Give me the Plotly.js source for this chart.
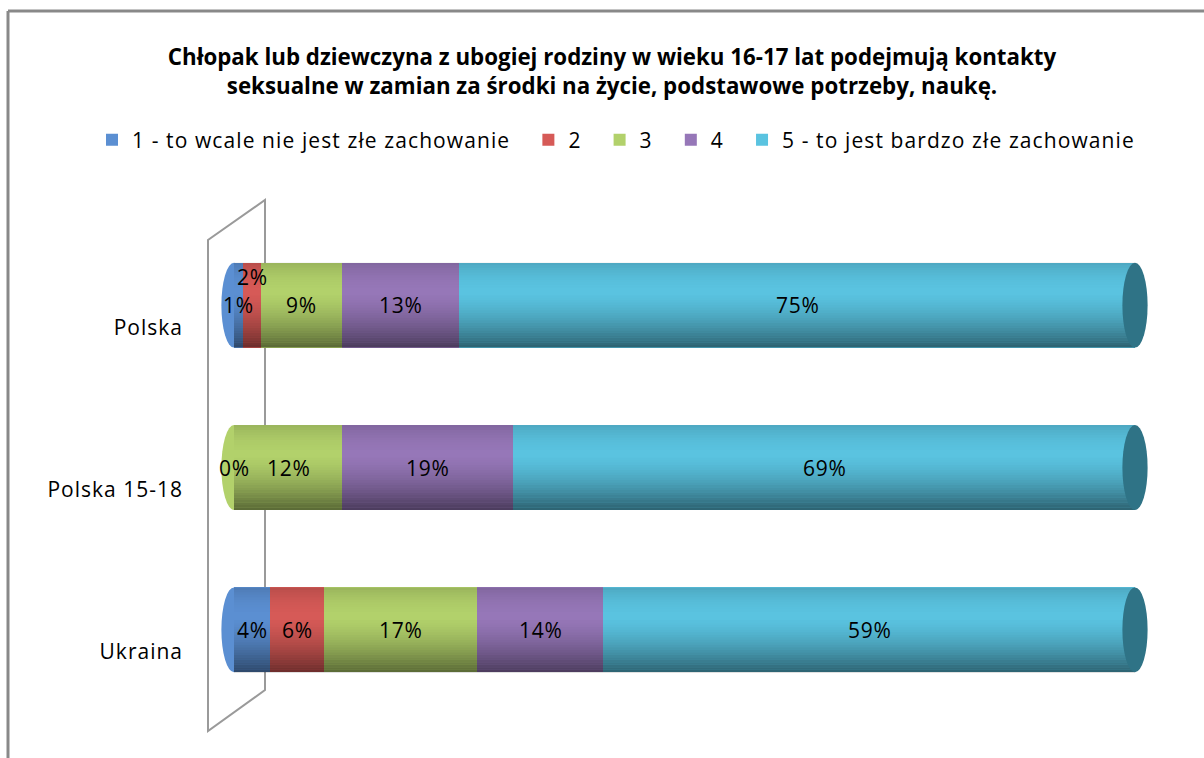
<!DOCTYPE html>
<html><head><meta charset="utf-8">
<script src="https://cdn.plot.ly/plotly-3.0.1.min.js"></script>
<style>
html,body{margin:0;padding:0;background:#fff;}
#chart{width:1204px;height:758px;}
text.legendtext{letter-spacing:1.1px;}
.ytick text{letter-spacing:1px;}
.annotation-text{letter-spacing:0.7px;}
</style>
</head><body><div id="chart"></div>
<script>
const categories = ['Polska', 'Polska 15-18', 'Ukraina'];
const seriesNames = ['1 - to wcale nie jest złe zachowanie', '2', '3', '4', '5 - to jest bardzo złe zachowanie'];
const s1 = [1, 0, 4];
const s2 = [2, 0, 6];
const s3 = [9, 12, 17];
const s4 = [13, 19, 14];
const s5 = [75, 69, 59];
const seriesValues = [s1, s2, s3, s4, s5];
const colors = ['#5B8FD2', '#D65A57', '#B2D16B', '#9677B8', '#5AC3E0'];
const capColor = '#2F7386';

const FONT = '"Open Sans", Lato, sans-serif';
const W = 1204, H = 758, L = 200, R = 34, T = 224, B = 47;
const PW = W - L - R, PH = H - T - B;
const px = x => (x - L) / PW;
const py = y => (H - B - y) / PH;
const PAD = '\u00A0\u00A0';

const traces = seriesValues.map((vals, k) => ({
  type: 'bar', orientation: 'h', name: seriesNames[k] + (k < seriesNames.length - 1 ? PAD : ''),
  y: categories, x: vals,
  marker: {color: colors[k], line: {width: 0}},
  hoverinfo: 'x+name'
}));

const barW = 0.523;
const shapes = [];
shapes.push({type:'line', xref:'paper', yref:'paper', x0:px(8), x1:px(1210), y0:py(11), y1:py(11), line:{color:'#898989', width:3}});
shapes.push({type:'line', xref:'paper', yref:'paper', x0:px(8), x1:px(8), y0:py(11), y1:py(765), line:{color:'#898989', width:3}});
shapes.push({type:'path', xref:'paper', yref:'paper', layer:'below',
  path:`M ${px(208)},${py(731)} L ${px(208)},${py(240)} L ${px(265)},${py(200)} L ${px(265)},${py(690)} Z`,
  line:{color:'#9a9a9a', width:2}});

const NS = 34;
const shade = t => t < 0.35 ? 0.14 * Math.pow(1 - t / 0.35, 2) : 0.5 * Math.pow((t - 0.35) / 0.65, 1.5);
const annotations = [];
categories.forEach((cat, i) => {
  const total = seriesValues.reduce((a, s) => a + s[i], 0);
  const firstK = seriesValues.findIndex(s => s[i] > 0);
  shapes.push({type:'circle', xref:'x', yref:'y', layer:'below', x0:-1.4, x1:1.4, y0:i-barW/2, y1:i+barW/2,
    fillcolor: colors[firstK], line:{width:0}});
  for (let j = 0; j < NS; j++) {
    const a = shade((j + 0.5) / NS);
    if (a < 0.005) continue;
    shapes.push({type:'rect', xref:'x', yref:'y', x0:0, x1:total, y0:i-barW/2 + j*barW/NS, y1:i-barW/2+(j+1)*barW/NS,
      fillcolor:`rgba(0,0,0,${a.toFixed(3)})`, line:{width:0}});
  }
  shapes.push({type:'circle', xref:'x', yref:'y', x0:total-1.4, x1:total+1.4, y0:i-barW/2, y1:i+barW/2,
    fillcolor: capColor, line:{width:0}});
  let cum = 0; let prevX = null;
  seriesValues.forEach((s, k) => {
    const v = s[i];
    const cx = cum + v / 2;
    cum += v;
    if (prevX !== null && v === 0 && Math.abs(cx - prevX) < 0.01) return;
    let yshift = 0;
    if (prevX !== null && cx - prevX < 3) yshift = 28;
    annotations.push({x: cx, y: cat, xref:'x', yref:'y', text: v + '%', showarrow:false,
      yshift: yshift, font:{family:FONT, size:21, color:'#000'}});
    prevX = cx;
  });
});

const layout = {
  width: W, height: H,
  margin: {l: L, r: R, t: T, b: B, pad: 0},
  paper_bgcolor: '#fff', plot_bgcolor: 'rgba(0,0,0,0)',
  barmode: 'stack', bargap: 1 - barW,
  showlegend: true,
  title: {text: 'Chłopak lub dziewczyna z ubogiej rodziny w wieku 16-17 lat podejmują kontakty<br>seksualne w zamian za środki na życie, podstawowe potrzeby, naukę.',
    font: {family: FONT, size: 22.3, color: '#000', weight: 'bold'},
    x: 612 / W, xanchor: 'center', xref: 'container', y: 1 - 65 / H, yanchor: 'middle', yref: 'container'},
  legend: {orientation: 'h', x: px(92), xanchor: 'left', y: py(140), yanchor: 'middle',
    font: {family: FONT, size: 21, color: '#000'}, traceorder: 'normal', itemclick: false},
  xaxis: {showgrid: false, zeroline: false, showticklabels: false, showline: false, fixedrange: true},
  yaxis: {type: 'category', autorange: false, range: [2.5, -0.5], showgrid: false, zeroline: false, showline: false,
    ticks: '', ticklabelstandoff: 16, ticklabelshift: -22, tickfont: {family: FONT, size: 21, color: '#000'}, fixedrange: true},
  shapes: shapes, annotations: annotations
};
layout.xaxis.range = [(L - 234) / 9.01, (L + PW - 234) / 9.01];

Plotly.newPlot('chart', traces, layout, {displayModeBar: false, staticPlot: true});
</script></body></html>
